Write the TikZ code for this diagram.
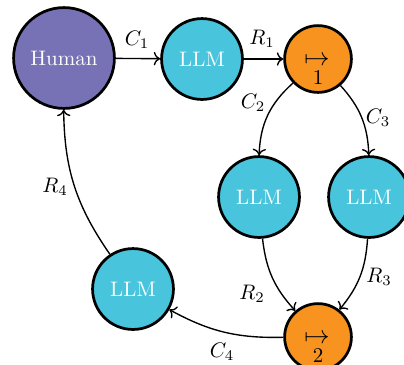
\documentclass[tikz,border=0pt]{standalone}
\usetikzlibrary{arrows.meta}
\definecolor{humanc}{RGB}{119,114,181}
\definecolor{llmc}{RGB}{72,197,220}
\definecolor{orangec}{RGB}{247,147,30}
\begin{document}
\begin{tikzpicture}[x=0.476pt,y=-0.476pt,
  base/.style={circle,draw=black,line width=1.3pt,inner sep=0pt},
  human/.style={base,fill=humanc,text=white,minimum size=48pt},
  llm/.style={base,fill=llmc,text=white,minimum size=38.5pt},
  agg/.style={base,fill=orangec,text=black,minimum size=31.8pt},
  conn/.style={->,line width=0.65pt},
  sym/.style={inner sep=0pt,anchor=base},
  lab/.style={inner sep=0pt}]
\useasboundingbox (0,0) rectangle (404,364);
\node[human] (h) at (64,58) {Human};
\node[llm] (l1) at (202,59) {LLM};
\node[agg] (o1) at (318,59) {};
\node[sym] (o1s) at (317,65) {\large$\mapsto$};
\node[sym] (o1n) at (318,84) {$1$};
\node[llm] (l2) at (259,197) {LLM};
\node[llm] (l3) at (369,197) {LLM};
\node[agg] (o2) at (318,337) {};
\node[sym] (o2s) at (317,343) {\large$\mapsto$};
\node[sym] (o2n) at (318,362) {$2$};
\node[llm] (l4) at (133,289) {LLM};
\draw[conn] (h) -- (l1);
\draw[conn] (l1) -- (o1);
\draw[conn] (o1) to[bend right=23] (l2);
\draw[conn] (o1) to[bend left=20] (l3);
\draw[conn] (l2) to[bend right=18] (o2);
\draw[conn] (l3) to[bend left=18] (o2);
\draw[conn] (o2) to[bend left=15] (l4);
\draw[conn] (l4) to[bend left=17] (h);
\node[lab] (c1) at (137,40) {$C_1$};
\node[lab] (r1) at (262,39) {$R_1$};
\node[lab] (c2) at (253,103) {$C_2$};
\node[lab] (c3) at (378,118) {$C_3$};
\node[lab] (r2) at (252,294) {$R_2$};
\node[lab] (r3) at (379,277) {$R_3$};
\node[lab] (c4) at (222,352) {$C_4$};
\node[lab] (r4) at (55,187) {$R_4$};
\end{tikzpicture}
\end{document}
